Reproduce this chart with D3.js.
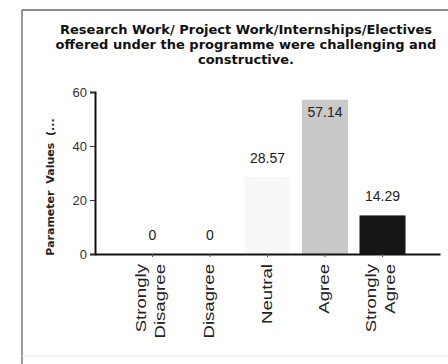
<!DOCTYPE html>
<html>
<head>
<meta charset="utf-8">
<script src="https://cdn.jsdelivr.net/npm/d3@7"></script>
<style>
  body { margin: 0; background: #fff; }
  svg { display: block; }
</style>
</head>
<body>
<svg width="448" height="364"></svg>
<script>
var categories = ["Strongly Disagree", "Disagree", "Neutral", "Agree", "Strongly Agree"];
var values = [0, 0, 28.57, 57.14, 14.29];
var barColors = ["#f8f8f8", "#f8f8f8", "#f8f8f8", "#c9c9c9", "#161616"];
var yTicks = [0, 20, 40, 60];
var titleLines = [
  "Research Work/ Project Work/Internships/Electives",
  "offered under the programme were challenging and",
  "constructive."
];

var svg = d3.select("svg");

// frame round the chart (right side runs off the picture)
svg.append("line").attr("x1", 22).attr("y1", 10).attr("x2", 448).attr("y2", 10)
  .attr("stroke", "#666").attr("stroke-width", 1.5);
svg.append("line").attr("x1", 22).attr("y1", 10).attr("x2", 22).attr("y2", 364)
  .attr("stroke", "#777").attr("stroke-width", 1.5);
svg.append("line").attr("x1", 22).attr("y1", 356).attr("x2", 448).attr("y2", 356)
  .attr("stroke", "#ececec").attr("stroke-width", 1);

// title
svg.append("g").selectAll("text")
  .data(titleLines)
  .enter()
  .append("text")
  .attr("x", 246)
  .attr("y", function(d, i) { return 34 + i * 15; })
  .attr("text-anchor", "middle")
  .attr("font-family", "DejaVu Sans")
  .attr("font-weight", "bold")
  .attr("font-size", "13px")
  .attr("fill", "#111")
  .text(function(d) { return d; });

var x = d3.scaleBand()
  .domain(categories)
  .range([95, 440])
  .paddingInner(0.2)
  .paddingOuter(0.6);

var y = d3.scaleLinear().domain([0, 60]).range([254, 92]);

// bars
svg.append("g").selectAll("rect")
  .data(values)
  .enter()
  .append("rect")
  .attr("x", function(d, i) { return x(categories[i]); })
  .attr("y", function(d) { return y(d); })
  .attr("width", x.bandwidth())
  .attr("height", function(d) { return y(0) - y(d); })
  .attr("fill", function(d, i) { return barColors[i]; });

// value labels
svg.append("g").selectAll("text")
  .data(values)
  .enter()
  .append("text")
  .attr("x", function(d, i) { return x(categories[i]) + x.bandwidth() / 2; })
  .attr("y", function(d) {
    var ty = y(d) - 14;
    return ty < 100 ? y(d) + 17 : ty;
  })
  .attr("text-anchor", "middle")
  .attr("font-family", "Liberation Sans")
  .attr("font-size", "14px")
  .attr("fill", "#222")
  .text(function(d) { return d; });

// y axis
var yAxis = svg.append("g")
  .attr("transform", "translate(95,0)")
  .call(d3.axisLeft(y).tickValues(yTicks).tickSize(5).tickSizeOuter(5));
yAxis.select(".domain").attr("stroke", "#111").attr("stroke-width", 2);
yAxis.selectAll(".tick line").attr("stroke", "#333");
yAxis.selectAll(".tick text")
  .attr("font-family", "Liberation Sans")
  .attr("font-size", "13px")
  .attr("fill", "#333")
  .attr("x", -8);

// x axis
var xAxis = svg.append("g")
  .attr("transform", "translate(0,254)")
  .call(d3.axisBottom(x).tickSize(3).tickSizeOuter(0).tickFormat(""));
xAxis.select(".domain").attr("stroke", "#111").attr("stroke-width", 2);
xAxis.selectAll(".tick line").attr("stroke", "#555");

// category labels, rotated, words split on two lines
var catLabels = svg.append("g").selectAll("g")
  .data(categories)
  .enter()
  .append("g")
  .attr("transform", function(d) {
    return "translate(" + (x(d) + x.bandwidth() / 2) + ",264) rotate(-90) scale(1.33,1)";
  });
catLabels.each(function(d) {
  var words = d.split(" ");
  var offsets = words.length > 1 ? [-7, 13] : [4];
  var g = d3.select(this);
  words.forEach(function(w, i) {
    g.append("text")
      .attr("x", 0)
      .attr("y", offsets[i])
      .attr("text-anchor", "end")
      .attr("font-family", "Liberation Sans")
      .attr("font-size", "14px")
      .attr("fill", "#222")
      .text(w);
  });
});

// y axis title
svg.append("text")
  .attr("transform", "translate(54,187) rotate(-90)")
  .attr("text-anchor", "middle")
  .attr("font-family", "DejaVu Sans")
  .attr("font-weight", "bold")
  .attr("font-size", "11px")
  .attr("word-spacing", "3px")
  .attr("fill", "#222")
  .text("Parameter Values (...");
</script>
</body>
</html>
